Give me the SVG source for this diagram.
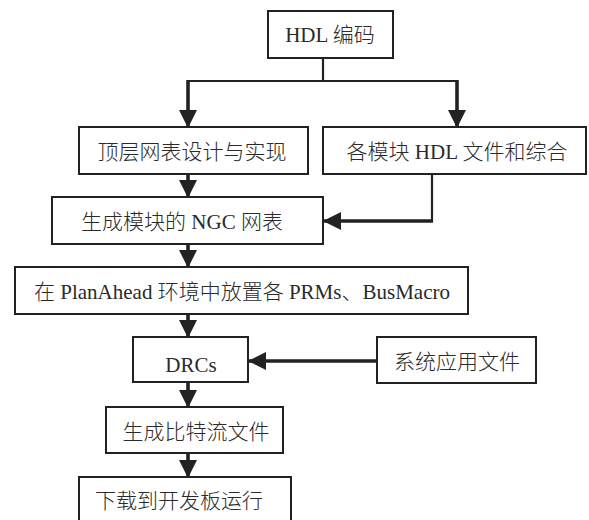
<svg xmlns="http://www.w3.org/2000/svg" width="589" height="520" viewBox="0 0 589 520">
<defs>
<style>
.box{fill:#fff;stroke:#222;stroke-width:2}
.t{font-family:"Liberation Serif","Noto Sans CJK SC",serif;font-size:21px;font-weight:300;fill:#2a2a2a;text-anchor:middle}
.thin{stroke:#222;stroke-width:2.2;fill:none}
.thick{stroke:#222;stroke-width:3.6;fill:none}
.arr{stroke:#222;stroke-width:3.6;fill:none;marker-end:url(#ah)}
</style>
<marker id="ah" markerUnits="userSpaceOnUse" markerWidth="18" markerHeight="18" refX="17" refY="9" orient="auto">
<path d="M0,0 L18,9 L0,18 z" fill="#222"/>
</marker>
</defs>
<rect width="589" height="520" fill="#fff"/>
<g id="connectors">
<line class="thin" x1="323" y1="58" x2="323" y2="81"/>
<line class="thin" x1="187" y1="81" x2="458" y2="81"/>
<line class="arr" x1="188" y1="80" x2="188" y2="127"/>
<line class="arr" x1="457" y1="80" x2="457" y2="127"/>
<line class="arr" x1="188" y1="174" x2="188" y2="197"/>
<line class="thin" x1="432" y1="174" x2="432" y2="222"/>
<line class="arr" x1="433" y1="221" x2="324" y2="221"/>
<line class="arr" x1="188" y1="244" x2="188" y2="267"/>
<line class="arr" x1="188" y1="314" x2="188" y2="337"/>
<line class="arr" x1="377" y1="361" x2="249" y2="361"/>
<line class="arr" x1="188" y1="382" x2="188" y2="407"/>
<line class="arr" x1="188" y1="453" x2="188" y2="477"/>
</g>
<g id="hdl"><rect class="box" x="268" y="11" width="125" height="47"/><text class="t" x="330" y="42">HDL 编码</text></g>
<g id="top"><rect class="box" x="79" y="127" width="229" height="47"/><text class="t" x="192" y="159">顶层网表设计与实现</text></g>
<g id="mod"><rect class="box" x="323" y="127" width="263" height="47"/><text class="t" x="457" y="159">各模块 HDL 文件和综合</text></g>
<g id="ngc"><rect class="box" x="52" y="197" width="271" height="47"/><text class="t" x="182" y="229">生成模块的 NGC 网表</text></g>
<g id="plan"><rect class="box" x="15" y="267" width="453" height="47"/><text class="t" x="242" y="299">在 PlanAhead 环境中放置各 PRMs、BusMacro</text></g>
<g id="drc"><rect class="box" x="133" y="337" width="115" height="45"/><text class="t" x="191" y="372">DRCs</text></g>
<g id="sys"><rect class="box" x="377" y="337" width="159" height="46"/><text class="t" x="457" y="369">系统应用文件</text></g>
<g id="bit"><rect class="box" x="106" y="407" width="177" height="46"/><text class="t" x="196" y="439">生成比特流文件</text></g>
<g id="dl"><rect class="box" x="79" y="477" width="212" height="52"/><text class="t" x="179" y="508">下载到开发板运行</text></g>
</svg>
